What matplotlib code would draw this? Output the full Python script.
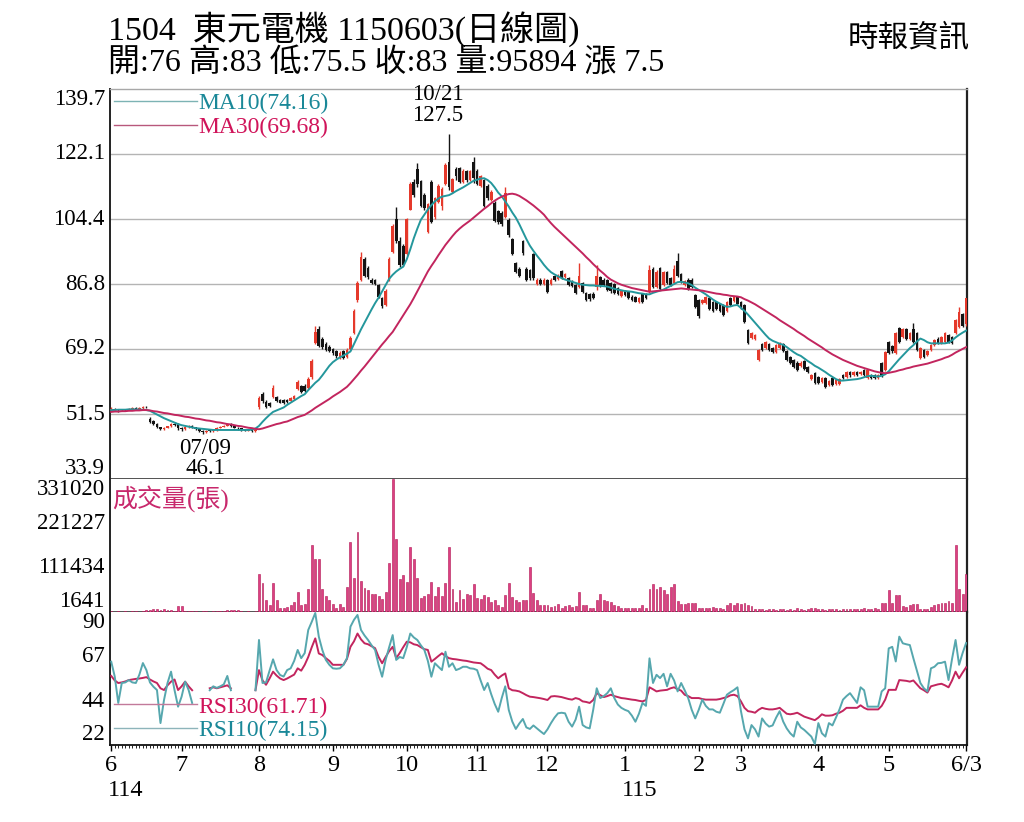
import numpy as np
import matplotlib
matplotlib.use("Agg")
import matplotlib.pyplot as plt
from matplotlib.lines import Line2D

plt.rcParams['font.family'] = ['Liberation Serif', 'Noto Sans CJK TC']

nan = float('nan')

# ---- data (one value per trading day, 2025/06 .. 2026/06/03) ----
month_labels = ['6', '7', '8', '9', '10', '11', '12', '1', '2', '3', '4', '5', '6/3']
month_start = [0, 20, 42, 63, 84, 104, 124, 146, 167, 179, 201, 221, 243]
year_labels = ['114', '115']
year_start = [0, 146]

opens = [
    52.6, 53.0, 52.7, 52.5, 52.8, 52.6, 52.9, 53.1, 52.9, 53.2, 53.5, 50.2, 49.5, 48.8, 47.9, 47.5, 47.8, 48.2, 48.9, 48.7,
    47.6, 47.4, 47.9, 48.3, 47.9, 47.5, 46.9, 46.7, 47.0, 46.9, 47.2, 47.8, 48.1, 48.4, 48.9, 48.3, 47.8, 47.6, 47.2, 47.0, 47.1, 46.9,
    53.4, 57.0, 54.8, 54.6, 56.1, 56.1, 55.3, 55.2, 55.4, 55.0, 55.5, 58.4, 59.0, 59.2, 58.6, 61.5, 70.8, 74.5, 72.0, 70.6, 69.8,
    69.2, 68.6, 66.8, 68.5, 67.0, 69.2, 73.5, 82.4, 88.0, 93.6, 91.2, 88.0, 87.8, 86.4, 83.0, 81.2, 88.0, 95.6, 104.5, 98.5, 97.0,
    95.0, 107.0, 114.5, 118.0, 114.8, 111.0, 101.0, 114.5, 105.0, 109.0, 108.0, 114.0, 120.0, 111.8, 118.0, 118.2, 114.5, 117.5, 115.0, 120.0,
    117.5, 113.5, 115.0, 113.5, 109.5, 108.8, 106.5, 106.0, 105.0, 104.2, 99.0, 92.5, 91.0, 98.5, 91.0, 90.5, 95.0, 86.7, 88.0, 86.8,
    87.9, 86.8, 89.0, 88.2, 90.2, 88.8, 88.4, 87.5, 86.5, 86.0, 87.0, 84.4, 84.0, 84.2, 86.0, 88.8, 88.0, 87.8, 87.1, 86.8, 85.8, 83.5,
    85.0, 84.5, 83.4, 83.3, 82.0, 84.0, 84.0, 84.6, 91.0, 86.0, 91.1, 86.5, 90.0, 88.5, 87.0, 93.0, 89.5, 86.5, 88.0, 88.0, 83.8,
    82.5, 81.6, 81.6, 83.0, 82.0, 82.0, 81.3, 81.1, 79.5, 83.0, 82.1, 83.3,
    81.9, 81.1, 74.3, 72.2, 72.0, 66.2, 70.5, 69.5, 70.5, 69.5, 68.4, 69.5, 70.5, 68.5, 67.0, 66.2, 65.5, 64.5, 66.0, 64.3, 61.0, 62.6,
    61.5, 60.2, 61.3, 59.5, 61.3, 59.8, 59.8, 62.0, 61.6, 63.0, 62.2, 63.0, 62.4, 63.5, 61.3, 62.0, 62.0, 61.3, 65.4, 63.5,
    71.1, 70.0, 68.1, 74.9, 72.5, 74.5, 72.0, 74.5, 73.5, 66.7, 69.0, 67.5, 69.0, 70.3, 72.0, 70.8, 71.0, 73.0, 72.5, 73.5,
    75.2, 78.7, 76.0]

closes = [
    53.0, 52.7, 52.5, 52.8, 52.6, 52.9, 53.1, 52.9, 53.2, 53.5, 53.3, 49.4, 48.8, 47.9, 47.5, 47.8, 48.2, 48.9, 48.5, 47.6,
    47.4, 47.9, 48.3, 47.9, 47.5, 46.9, 46.7, 47.0, 46.9, 47.2, 47.8, 48.1, 48.4, 48.9, 48.3, 47.8, 47.6, 47.2, 47.0, 47.1, 46.9, 47.3,
    55.9, 55.0, 53.4, 53.6, 58.6, 55.0, 54.6, 54.5, 54.8, 55.8, 56.3, 60.2, 57.4, 57.8, 61.0, 66.0, 73.8, 70.0, 69.6, 69.0, 68.6,
    68.0, 67.2, 68.2, 66.8, 69.0, 72.2, 79.6, 87.0, 94.0, 89.0, 88.6, 87.2, 86.8, 83.4, 80.8, 85.0, 93.6, 102.6, 98.5, 92.0, 92.0,
    104.5, 114.0, 111.0, 114.0, 108.0, 107.5, 108.5, 103.5, 110.0, 113.5, 112.5, 119.0, 113.0, 115.4, 116.0, 114.5, 117.5, 115.0, 117.4, 115.5,
    114.0, 116.0, 108.0, 110.0, 111.8, 104.0, 103.5, 103.0, 111.5, 100.0, 95.0, 90.0, 89.0, 95.2, 88.0, 88.5, 88.4, 88.0, 86.8, 88.0,
    84.6, 88.0, 88.0, 89.0, 88.5, 89.5, 86.5, 86.3, 84.4, 89.0, 84.6, 82.5, 82.6, 83.0, 89.0, 86.3, 86.5, 85.2, 85.0, 84.4, 84.0, 84.8,
    83.8, 83.0, 82.4, 82.0, 83.0, 82.0, 83.0, 90.6, 86.0, 90.0, 85.5, 90.0, 87.0, 86.5, 91.0, 89.0, 87.5, 87.5, 85.5, 86.0, 80.6,
    78.0, 82.5, 83.3, 80.0, 79.5, 80.0, 79.5, 78.4, 82.0, 81.0, 83.3, 81.5,
    80.3, 76.5, 70.8, 73.5, 73.0, 68.9, 68.9, 71.0, 69.0, 68.4, 70.3, 70.8, 68.7, 66.2, 65.5, 64.3, 63.5, 65.5, 63.8, 62.9, 62.0, 60.0,
    60.0, 61.2, 58.8, 60.5, 59.5, 60.8, 61.0, 61.2, 63.0, 62.0, 63.0, 62.2, 63.0, 62.2, 63.5, 61.2, 61.3, 62.0, 61.8, 68.4,
    68.1, 68.5, 73.5, 71.0, 74.5, 72.0, 73.5, 71.0, 68.9, 69.4, 67.0, 68.5, 70.3, 71.6, 70.8, 72.5, 73.5, 71.0, 70.8, 77.0,
    79.2, 75.5, 83.0]

highs = [
    53.3, 53.2, 52.9, 53.0, 53.0, 53.1, 53.3, 53.3, 53.4, 53.7, 53.8, 50.6, 49.8, 49.1, 48.1, 48.0, 48.4, 49.1, 49.3, 49.0,
    47.9, 48.1, 48.6, 48.5, 48.1, 47.7, 47.1, 47.2, 47.3, 47.4, 48.0, 48.3, 48.6, 49.2, 49.1, 48.5, 48.0, 47.8, 47.4, 47.3, 47.3, 47.5,
    56.5, 57.5, 55.2, 54.9, 59.3, 56.5, 55.6, 55.5, 55.7, 56.1, 56.6, 60.8, 59.3, 59.6, 61.5, 66.5, 75.3, 75.5, 72.4, 71.0, 70.2,
    69.5, 69.0, 68.6, 69.0, 69.4, 72.6, 80.0, 87.5, 95.5, 94.2, 91.6, 88.4, 88.2, 86.8, 83.4, 85.4, 94.0, 103.2, 107.7, 99.5, 97.6,
    104.8, 114.5, 115.2, 119.6, 115.0, 111.5, 108.8, 115.0, 110.5, 114.0, 113.0, 119.6, 127.5, 115.6, 118.6, 118.5, 118.0, 117.8, 117.7, 121.3,
    118.0, 116.5, 115.3, 114.0, 112.2, 109.2, 107.0, 106.5, 113.0, 104.6, 99.4, 92.8, 91.4, 98.7, 91.4, 91.0, 95.2, 88.3, 88.3, 88.3,
    88.2, 88.3, 89.3, 89.4, 90.5, 89.8, 88.7, 87.8, 86.8, 92.5, 87.3, 84.7, 84.3, 84.5, 91.9, 89.1, 88.3, 88.1, 87.4, 87.1, 86.1, 85.1,
    85.3, 84.8, 83.7, 83.6, 83.3, 84.3, 84.3, 91.9, 91.5, 90.5, 91.4, 90.4, 90.3, 88.8, 91.9, 95.2, 89.8, 87.8, 88.3, 88.3, 84.1,
    82.8, 82.8, 83.6, 83.3, 82.3, 82.3, 81.6, 81.4, 82.3, 83.3, 83.6, 83.6,
    82.2, 81.4, 74.6, 73.8, 73.3, 69.2, 70.8, 71.3, 70.8, 69.8, 70.6, 71.1, 70.8, 68.8, 67.3, 66.5, 65.8, 65.8, 66.3, 64.6, 62.3, 62.9,
    61.8, 61.5, 61.6, 60.8, 61.6, 61.1, 61.3, 62.3, 63.3, 63.3, 63.3, 63.3, 63.3, 63.8, 63.8, 62.3, 62.3, 62.3, 65.7, 68.7,
    71.4, 70.3, 73.8, 75.2, 74.8, 74.8, 73.8, 76.2, 73.8, 69.7, 69.3, 68.8, 70.6, 71.9, 72.3, 72.8, 73.8, 73.3, 72.8, 77.3,
    80.5, 79.0, 83.0]

lows = [
    52.3, 52.5, 52.2, 52.3, 52.4, 52.5, 52.7, 52.7, 52.8, 53.0, 53.1, 49.1, 48.5, 47.7, 47.2, 47.2, 47.6, 48.0, 48.2, 47.3,
    47.0, 47.2, 47.7, 47.6, 47.2, 46.6, 46.1, 46.5, 46.6, 46.7, 47.0, 47.6, 47.9, 48.2, 48.0, 47.6, 47.3, 47.0, 46.8, 46.8, 46.7, 46.7,
    53.0, 54.6, 53.2, 53.3, 55.8, 54.8, 54.4, 54.2, 54.6, 54.8, 55.2, 58.0, 57.2, 57.5, 58.3, 61.0, 70.5, 69.7, 69.2, 68.7, 68.3,
    67.6, 66.8, 66.4, 66.5, 66.6, 68.8, 73.2, 82.0, 87.6, 88.6, 88.2, 86.8, 86.4, 83.0, 80.4, 80.8, 87.6, 95.2, 98.0, 91.4, 91.6,
    94.6, 106.8, 110.5, 113.2, 107.7, 107.0, 100.6, 103.3, 104.5, 108.8, 107.0, 113.6, 112.3, 111.5, 115.0, 114.2, 114.2, 114.6, 114.8, 114.2,
    113.6, 113.2, 107.7, 109.6, 109.2, 103.6, 103.2, 102.6, 104.6, 99.5, 94.7, 89.8, 88.6, 94.7, 87.7, 88.0, 87.9, 86.4, 86.5, 86.5,
    84.3, 86.5, 87.7, 88.0, 88.2, 88.5, 86.2, 86.0, 84.1, 85.7, 84.3, 82.2, 82.3, 82.7, 85.2, 86.0, 86.2, 84.9, 84.4, 84.1, 83.7, 83.2,
    83.5, 82.7, 82.1, 81.9, 81.7, 81.7, 82.7, 84.3, 85.6, 85.7, 85.2, 86.2, 86.7, 86.2, 86.7, 88.7, 87.2, 86.2, 85.2, 85.7, 80.3,
    77.7, 81.3, 81.3, 79.7, 79.2, 79.7, 79.2, 78.1, 79.2, 80.7, 81.8, 81.2,
    80.0, 76.2, 70.5, 71.9, 71.7, 65.9, 68.6, 69.2, 68.7, 68.1, 68.1, 69.2, 68.4, 65.9, 65.2, 64.0, 63.2, 64.2, 63.5, 62.6, 60.7, 59.7,
    59.7, 59.9, 58.5, 59.2, 59.2, 59.5, 59.5, 60.9, 61.3, 61.7, 61.9, 61.9, 62.1, 61.9, 61.0, 60.9, 61.0, 61.0, 61.5, 63.2,
    67.8, 68.2, 67.8, 70.7, 72.2, 71.7, 71.7, 70.7, 68.6, 66.4, 66.7, 67.2, 68.7, 70.0, 70.5, 70.5, 70.7, 70.7, 70.5, 73.2,
    74.9, 75.2, 75.5]

volume = [
    3000, 2500, 3500, 2800, 3000, 2600, 3200, 3000, 2800, 3500, 6000, 7500, 9000, 8500, 7000, 8000, 6500, 7000, 5000, 16000,
    16500, 4000, 3500, 3000, 3000, 2800, 3500, 3000, 2500, 3000, 3500, 4000, 4500, 7000, 7500, 6500, 7000, 3000, 2500, 3000, 2800, 3500,
    95700, 73500, 31000, 19000, 73500, 31000, 12000, 12000, 14000, 18000, 27000, 52000, 20000, 22000, 58000, 167000, 133000, 133000, 58000, 41000, 31000,
    22000, 12000, 22000, 14000, 64000, 176000, 86000, 200000, 78000, 61000, 56000, 45000, 47000, 41000, 33000, 52000, 124000, 331020, 182000, 83000, 93000,
    76000, 163000, 133000, 86000, 36000, 42000, 46000, 76000, 41000, 63000, 42000, 73000, 163000, 58000, 27000, 55000, 33000, 46000, 44000, 70000,
    36000, 35000, 43000, 39000, 27000, 32000, 20000, 15000, 44000, 73000, 39000, 32000, 27000, 32000, 32000, 114000, 49000, 32000, 19000, 19000,
    19000, 13000, 17000, 21000, 12500, 16000, 18000, 14000, 16000, 52000, 19000, 18000, 12500, 11500, 31000, 45000, 31000, 29000, 26000, 19000, 16500, 12000,
    11000, 12000, 10500, 12500, 11000, 19000, 12000, 59500, 72000, 59500, 64500, 55000, 46000, 64500, 72000, 29000, 22000, 22000, 24000, 25000, 24000,
    12000, 10500, 11000, 12000, 14000, 10500, 11000, 10000, 19000, 24000, 20000, 25000,
    22000, 23000, 19000, 16500, 9000, 8000, 9500, 7500, 8000, 10000, 7000, 8500, 9000, 7500, 8000, 7000, 10500, 8000, 7500, 9000, 11000, 12000,
    8000, 9000, 7500, 8500, 10000, 9000, 7500, 8000, 9500, 10000, 8500, 9000, 8000, 10500, 9000, 8000, 12000, 8000, 25000, 23000,
    56000, 24000, 44000, 43000, 17000, 14000, 19000, 22000, 22000, 10000, 9000, 9000, 14000, 18000, 21000, 25000, 25000, 29000, 25000, 168000,
    59500, 46000, 95894]

ma10 = [
    52.6, 52.6, 52.7, 52.7, 52.7, 52.8, 52.8, 52.8, 52.7, 52.7, 52.6, 52.4, 51.9, 51.4, 50.9, 50.4, 50.0, 49.6, 49.2, 48.8,
    48.5, 48.3, 48.1, 47.9, 47.7, 47.6, 47.5, 47.4, 47.3, 47.2, 47.2, 47.2, 47.2, 47.2, 47.2, 47.2, 47.2, 47.2, 47.2, 47.2, 47.3, 47.6,
    48.3, 49.4, 50.4, 51.3, 52.1, 52.5, 52.9, 53.3, 54.0, 54.6, 55.2, 55.8, 56.4, 56.9, 58.0, 59.0, 60.0, 60.8, 62.0, 63.3, 64.6,
    65.6, 66.3, 66.9, 67.4, 67.9, 68.5, 70.5, 72.5, 74.5, 76.3, 78.1, 79.9, 81.6, 83.1, 84.8, 86.5, 88.2, 89.3, 90.2, 90.9, 91.5,
    93.5, 96.2, 99.2, 101.8, 104.2, 105.6, 107.0, 108.2, 109.2, 110.0, 110.5, 110.7, 110.9, 111.4, 112.0, 112.5, 113.0, 113.6, 114.2, 114.8,
    115.1, 115.4, 115.5, 115.0, 114.2, 113.0, 111.6, 110.6, 109.2, 107.8, 106.2, 104.8, 103.0, 101.0, 99.0, 97.2, 95.8, 94.5, 93.3, 92.0,
    90.9, 90.0, 89.4, 88.9, 88.4, 88.0, 87.7, 87.4, 87.1, 86.8, 86.6, 86.5, 86.4, 86.4, 86.3, 86.3, 86.2, 86.1, 85.8, 85.5, 85.3, 85.1,
    84.9, 84.8, 84.7, 84.5, 84.3, 84.2, 84.0, 84.0, 84.4, 84.7, 85.0, 85.3, 85.8, 86.3, 86.8, 87.3, 87.4, 87.2, 87.0, 86.5, 85.8,
    85.2, 84.6, 84.0, 83.3, 82.6, 82.0, 81.5, 81.0, 80.6, 80.7, 81.0, 81.1,
    80.3, 79.5, 78.5, 77.4, 76.3, 75.2, 74.1, 73.0, 72.0, 71.4, 71.0, 70.6, 70.3, 69.7, 69.0, 68.3, 67.7, 67.3, 66.6, 65.9, 65.3, 64.6,
    64.1, 63.5, 62.9, 62.2, 61.6, 61.0, 60.6, 60.6, 60.7, 60.8, 60.9, 61.0, 61.2, 61.5, 61.8, 61.9, 61.8, 61.7, 61.9, 62.3,
    63.1, 64.2, 65.3, 66.4, 67.4, 68.4, 69.4, 70.2, 71.2, 72.0, 71.6, 71.0, 70.7, 70.7, 70.7, 70.7, 70.7, 70.9, 71.5, 72.3,
    73.0, 73.6, 74.16]

ma30 = [
    52.1, 52.2, 52.2, 52.3, 52.3, 52.4, 52.4, 52.5, 52.5, 52.6, 52.6, 52.5, 52.3, 52.2, 52.0, 51.8, 51.7, 51.5, 51.3, 51.2,
    51.0, 50.8, 50.7, 50.5, 50.3, 50.2, 50.0, 49.8, 49.7, 49.5, 49.3, 49.2, 49.0, 48.8, 48.7, 48.5, 48.3, 48.2, 48.0, 47.8, 47.7, 47.5,
    47.4, 47.6, 47.9, 48.2, 48.5, 48.8, 49.0, 49.3, 49.5, 49.9, 50.3, 50.7, 51.0, 51.3, 51.9, 52.5, 53.2, 53.8, 54.4, 55.0, 55.6,
    56.3, 56.9, 57.5, 58.2, 58.9, 59.9, 61.0, 62.1, 63.3, 64.4, 65.6, 66.8, 68.0, 69.2, 70.4, 71.5, 72.7, 73.8, 75.3, 76.8, 78.3,
    79.8, 81.3, 83.0, 84.8, 86.6, 88.4, 90.2, 91.7, 93.1, 94.6, 96.0, 97.4, 98.6, 99.8, 100.9, 101.8, 102.6, 103.3, 104.0, 104.8,
    105.6, 106.4, 107.2, 107.9, 108.7, 109.4, 110.0, 110.5, 110.9, 111.2, 111.3, 111.1, 110.7, 110.1, 109.5, 108.8, 108.1, 107.3, 106.5, 105.6,
    104.4, 103.3, 102.3, 101.4, 100.5, 99.6, 98.7, 97.8, 96.9, 96.0, 95.1, 94.1, 93.2, 92.2, 91.3, 90.4, 89.6, 88.7, 88.0, 87.5, 87.0, 86.6,
    86.3, 86.0, 85.7, 85.5, 85.3, 85.1, 84.9, 84.7, 84.8, 84.9, 85.0, 85.1, 85.2, 85.3, 85.4, 85.5, 85.6, 85.5, 85.4, 85.3, 85.2,
    85.1, 85.0, 84.8, 84.6, 84.4, 84.2, 84.1, 83.9, 83.8, 83.6, 83.5, 83.4,
    83.2, 82.7, 82.3, 81.8, 81.3, 80.7, 80.1, 79.5, 78.9, 78.3, 77.7, 77.0, 76.4, 75.8, 75.2, 74.6, 73.9, 73.3, 72.7, 72.0, 71.4, 70.8,
    70.2, 69.6, 68.9, 68.3, 67.7, 67.2, 66.7, 66.2, 65.8, 65.4, 65.0, 64.6, 64.3, 64.0, 63.7, 63.4, 63.1, 62.9, 62.7, 62.6,
    62.7, 62.9, 63.1, 63.4, 63.6, 63.9, 64.1, 64.4, 64.6, 64.8, 65.0, 65.2, 65.5, 65.8, 66.1, 66.4, 66.8, 67.1, 67.6, 68.2,
    68.7, 69.2, 69.68]

rsi10 = [
    64.6, 57, 43.5, 53.7, 54, 55.2, 54, 53.7, 58, 63.9, 60.3, 54, 51.8, 50.1, 33.2, 45, 53.7, 59.5, 50, 41.6,
    46.7, 54.4, 50.1, 43.5, nan, nan, nan, nan, 50, 52, 51.2, 52, 53, 57.3, 50, nan, nan, nan, nan, nan, nan, 50,
    75.7, 53.7, 54, 60, 65.8, 60.3, 57.8, 57, 60.3, 61.2, 65, 70.6, 66.4, 69, 80.8, 85, 89.5, 77.4, 70.6, 65.5, 63,
    61.2, 61, 61.2, 63, 66.4, 82.5, 86, 88.5, 80.8, 78, 75.7, 73, 70.6, 63, 56.9, 65.5, 72, 78.2, 65.5, 67, 66.4,
    72, 79, 77, 75.7, 73, 70.6, 65, 56.9, 63.8, 62, 60.3, 69.7, 62, 63.8, 60.3, 61, 62, 62, 61.2, 61,
    60.3, 55, 50.1, 53.7, 48, 43, 39, 46, 52, 39.9, 34, 30.2, 33, 35.3, 31, 30.2, 32, 30.5, 29, 27.6,
    30, 33.2, 36, 38.2, 38.5, 38.2, 33.9, 31.4, 35, 41.6, 32.2, 31, 30.5, 40, 51, 46, 47, 48.5, 51, 46, 42.7, 41,
    40, 39.3, 37, 33.9, 38, 43.5, 42, 66.3, 53.7, 57.9, 56.2, 58.4, 52, 58.4, 55, 49.4, 53.7, 50, 46, 40, 35.6,
    40, 45.2, 42, 40.2, 40.2, 39, 38.5, 43, 47.7, 49, 50.1, 51.5,
    39.3, 30, 25.4, 32.2, 30, 26.3, 35.6, 33, 31.4, 32, 36, 39.3, 34, 30.5, 28, 26.3, 33.9, 31, 29.7, 28, 26.3, 22.5,
    33.2, 28, 26.3, 33.2, 32, 36, 40.2, 45.2, 47, 48.5, 46, 43.5, 51.5, 50, 41.6, 41.6, 41.6, 41.6, 49.4, 51,
    71.4, 72.2, 64.7, 77.4, 74, 73.5, 73.1, 66.4, 60, 53.7, 51, 49.4, 61.2, 62, 63.8, 64, 64.6, 55.2, 66, 75.7,
    63, 69, 74.15]

rsi30 = [
    57.3, 55, 53.7, 54, 54.5, 55.2, 55.5, 55.8, 56, 56.3, 56.7, 55.5, 54.5, 53.7, 51, 50.1, 52.5, 54.4, 55.5, 50.1,
    52, 54.4, 52, 50, nan, nan, nan, nan, 51, 51.5, 51, 51.5, 52, 52.5, 51, nan, nan, nan, nan, nan, nan, 50,
    60.3, 55, 52.8, 56, 59.5, 57.5, 56, 55.2, 56, 57, 58, 61.2, 60, 63, 67, 72, 76.5, 68.8, 68, 66.4, 65,
    63, 63, 63, 63, 66, 72.2, 75, 79, 76, 74, 73.5, 72.5, 71.5, 67, 63.8, 67, 70, 72.2, 66.4, 69, 72,
    74.8, 74.5, 73.5, 73.1, 72, 71, 70.6, 64.6, 66, 67.5, 68.9, 67.5, 66.4, 66, 65.8, 65.5, 65.2, 65, 64.6, 64.2,
    64, 63.8, 62.5, 61, 60.3, 58, 56.1, 57.5, 58.6, 51, 50, 49.8, 49.4, 48.5, 47.5, 46.7, 46.5, 46.2, 45.9, 45.5,
    45, 46.8, 47, 46.8, 46.5, 46, 45.5, 45.2, 46, 45.5, 44.3, 44, 43.5, 45, 48.5, 47.5, 46.5, 47, 47.7, 47, 46.5, 46,
    45.8, 45.5, 45.2, 45, 44.6, 44.3, 45, 51.5, 50.5, 49.4, 49.8, 50, 50.2, 51, 51.5, 50.5, 49.8, 47.7, 47, 46, 46,
    46, 45.5, 45.2, 45.2, 45.2, 45.2, 45.5, 46, 46.5, 47.4, 47.7, 47,
    44.3, 41, 39.3, 39, 38.5, 40, 41, 40.5, 40.2, 40.2, 40.5, 41, 39.5, 38, 37.7, 38, 38.5, 37.5, 36.5, 35.9, 35.3, 34.7,
    36, 37.7, 37, 37, 37.2, 38, 38.5, 39.5, 41, 41, 41, 41, 42.3, 41, 40.2, 40.2, 40.2, 40.2, 42, 45.2,
    50.2, 50.2, 50.2, 55.2, 55, 54.8, 54.4, 55, 53, 51, 50, 48.8, 52, 52.5, 53, 53.3, 52.5, 51.5, 55, 59.5,
    56.1, 59, 61.71]

price_ticks = [33.9, 51.5, 69.2, 86.8, 104.4, 122.1, 139.7]
vol_ticks = [1641, 111434, 221227, 331020]
rsi_ticks = [22, 44, 67, 90]
hi_date, lo_date = '10/21', '07/09'

# ---- colours ----
RED = '#e5392b'
BLACK = '#141414'
TEAL = '#24979c'
MAG = '#c2255e'
TEAL_TXT = '#1a8898'
MAG_TXT = '#d0145a'

o = np.array(opens); c = np.array(closes)
h = np.array(highs); l = np.array(lows)
x = np.arange(len(c))

fig = plt.figure(figsize=(10.24, 8.22), dpi=100)
L, W = 110 / 1024, 857 / 1024
ax1 = fig.add_axes([L, 1 - 479 / 822, W, 390 / 822])
ax2 = fig.add_axes([L, 1 - 612 / 822, W, 133 / 822], sharex=ax1)
ax3 = fig.add_axes([L, 1 - 745 / 822, W, 133 / 822], sharex=ax1)

# price panel
cols = [RED if cc >= oo else BLACK for oo, cc in zip(o, c)]
ax1.vlines(x, l, h, colors=cols, lw=1.0, zorder=3)
ax1.bar(x, np.maximum(np.abs(c - o), 0.2), bottom=np.minimum(o, c), width=0.75,
        color=cols, linewidth=0, zorder=3)
ax1.plot(x, ma10, color=TEAL, lw=1.4, zorder=4)
ax1.plot(x, ma30, color=MAG, lw=1.4, zorder=4)
ax1.set_ylim(price_ticks[0], price_ticks[-1])
for t in price_ticks[1:-1]:
    ax1.axhline(t, color='#b4b4b4', lw=1.0, zorder=1)

ih = int(np.argmax(h))
ax1.annotate(f'{hi_date}\n{h[ih]:g}', (ih, h[ih]), xytext=(-8, 6), textcoords='offset points',
             ha='center', va='bottom', fontsize=16.5, linespacing=0.95, zorder=6)
il = int(np.argmin(l))
ax1.annotate(f'{lo_date}\n{l[il]:g}', (il, l[il]), xytext=(2, -3), textcoords='offset points',
             ha='center', va='top', fontsize=16.5, linespacing=0.95, zorder=6,
             annotation_clip=False)

leg1 = ax1.legend([Line2D([], [], color='#7db3b4', lw=1.0), Line2D([], [], color='#b8587c', lw=1.0)],
                  ['MA10(74.16)', 'MA30(69.68)'], loc='upper left', frameon=False,
                  fontsize=17, handlelength=3.55, handletextpad=0.05, labelspacing=0.1,
                  borderaxespad=0.0, borderpad=0.15)
leg1.get_texts()[0].set_color(TEAL_TXT)
leg1.get_texts()[1].set_color(MAG_TXT)

# volume panel
ax2.bar(x, volume, width=0.55, color='#dc3f82', edgecolor='#b01552', linewidth=0.4, zorder=3)
ax2.set_ylim(vol_ticks[0], vol_ticks[-1])
ax2.text(0.003, 0.955, '成交量(張)', transform=ax2.transAxes, color='#c8286c',
         fontsize=18, va='top', ha='left', zorder=6)

# RSI panel
ax3.plot(x, rsi30, color=MAG, lw=1.4, zorder=3)
ax3.plot(x, rsi10, color='#56a7ae', lw=1.4, zorder=3)
ax3.set_ylim(rsi_ticks[0], rsi_ticks[-1])
leg3 = ax3.legend([Line2D([], [], color='#c27a9a', lw=1.0), Line2D([], [], color='#8db4ba', lw=1.0)],
                  ['RSI30(61.71)', 'RSI10(74.15)'], loc='lower left', frameon=False,
                  fontsize=17, handlelength=3.55, handletextpad=0.05, labelspacing=0.1,
                  borderaxespad=0.0, borderpad=0.15)
leg3.get_texts()[0].set_color(MAG_TXT)
leg3.get_texts()[1].set_color(TEAL_TXT)

# y labels drawn next to the left spine (top one hangs down, bottom one sits up)
for ax, ticks, fmt in [(ax1, price_ticks, '{:g}'), (ax2, vol_ticks, '{:d}'), (ax3, rsi_ticks, '{:d}')]:
    ax.set_yticks([])
    for i, t in enumerate(ticks):
        va = 'bottom' if i == 0 else ('top' if i == len(ticks) - 1 else 'center')
        ax.text(-0.006, t, fmt.format(t), transform=ax.get_yaxis_transform(),
                ha='right', va=va, fontsize=16.5)

for ax in (ax1, ax2, ax3):
    ax.set_xlim(-0.35, len(c) - 0.75)
    ax.spines['left'].set_linewidth(1.4)
    ax.spines['right'].set_linewidth(1.6)
    ax.spines['left'].set_color('#222')
    ax.spines['right'].set_color('#222')
    ax.spines['bottom'].set_color('#444')
    ax.spines['bottom'].set_linewidth(1.3)
    ax.spines['top'].set_visible(False)
ax1.spines['top'].set_visible(True)
ax1.spines['top'].set_color('#a8a8a8')
ax1.spines['top'].set_linewidth(1.0)
ax3.spines['bottom'].set_color('#111')

for ax in (ax1, ax2):
    ax.tick_params(axis='x', which='both', bottom=False, labelbottom=False)

ax3.set_xticks(month_start)
ax3.set_xticklabels(month_labels)
ax3.set_xticks(x, minor=True)
ax3.tick_params(axis='x', which='major', length=4, width=1.0, labelsize=17.5, pad=3)
ax3.tick_params(axis='x', which='minor', length=2, width=0.6)
for t, lab in zip(year_start, year_labels):
    ax3.text(t - 0.9, -0.26, lab, transform=ax3.get_xaxis_transform(), ha='left', va='top', fontsize=17.5)

# header
fig.text(108 / 1024, 1 - 29 / 822, '1504  東元電機 1150603(日線圖)', fontsize=24.5, va='center', ha='left')
fig.text(108 / 1024, 1 - 64 / 822, '開:76 高:83 低:75.5 收:83 量:95894 漲 7.5', fontsize=23, va='center', ha='left')
fig.text(970 / 1024, 1 - 40 / 822, '時報資訊', fontsize=22, va='center', ha='right')

fig.savefig('out.png', dpi=100)
